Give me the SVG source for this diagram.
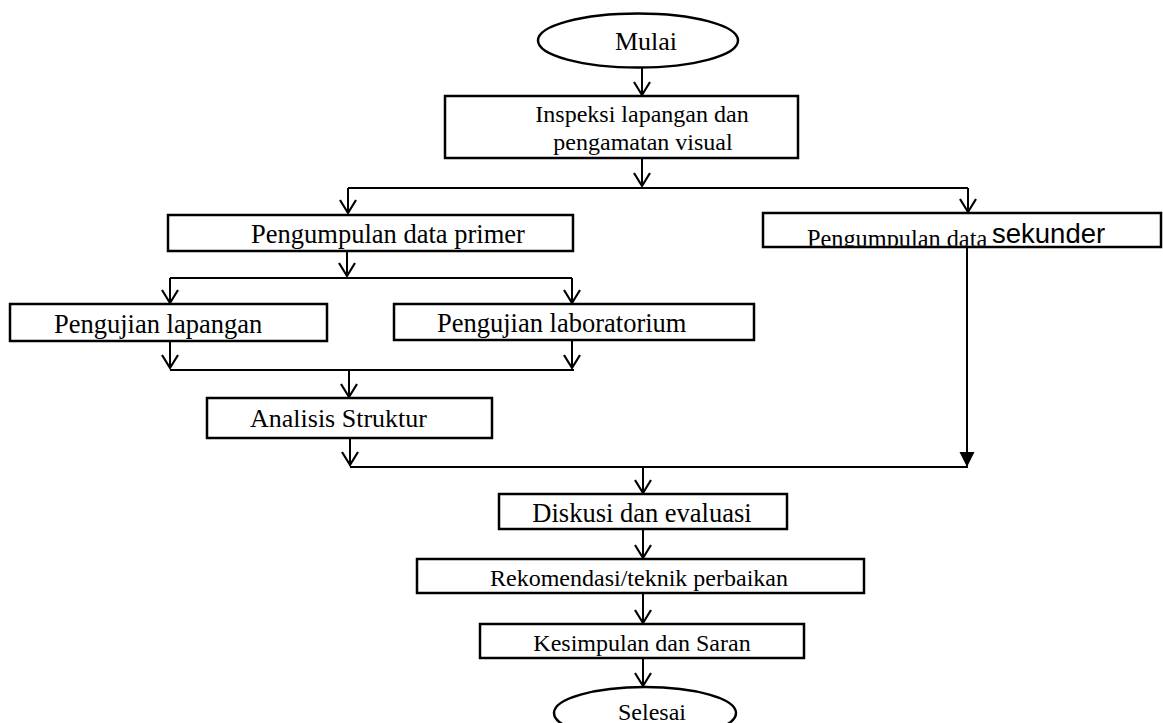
<svg xmlns="http://www.w3.org/2000/svg" width="1163" height="723" viewBox="0 0 1163 723">
<style>
.box{fill:#fff;stroke:#000;stroke-width:2.5}
.t{font-family:"Liberation Serif","Times New Roman",serif;fill:#000}
.s{font-family:"Liberation Sans",Arial,sans-serif;fill:#000}
.c{fill:none;stroke:#000;stroke-width:2}
</style>
<defs>
<marker id="ah" markerUnits="userSpaceOnUse" viewBox="-16 -10 20 20" markerWidth="20" markerHeight="20" refX="0" refY="0" orient="auto">
<path d="M-13,-8 L0,0 L-13,8" fill="none" stroke="#000" stroke-width="2.2"/>
</marker>
<marker id="fh" markerUnits="userSpaceOnUse" viewBox="-16 -10 20 20" markerWidth="20" markerHeight="20" refX="0" refY="0" orient="auto">
<path d="M-15,-7.5 L0,0 L-15,7.5 Z" fill="#000"/>
</marker>
<clipPath id="cs"><rect x="763" y="200" width="400" height="45.8"/></clipPath>
</defs>
<g id="connectors">
<path class="c" d="M642,67 V95" marker-end="url(#ah)"/>
<path class="c" d="M642,158 V186" marker-end="url(#ah)"/>
<path class="c" d="M348,188 H968"/>
<path class="c" d="M348,188 V213" marker-end="url(#ah)"/>
<path class="c" d="M968,188 V212" marker-end="url(#ah)"/>
<path class="c" d="M347,251 V276" marker-end="url(#ah)"/>
<path class="c" d="M170,278 H572"/>
<path class="c" d="M170,278 V303" marker-end="url(#ah)"/>
<path class="c" d="M572,278 V303" marker-end="url(#ah)"/>
<path class="c" d="M170,341 V368" marker-end="url(#ah)"/>
<path class="c" d="M572,340 V368" marker-end="url(#ah)"/>
<path class="c" d="M170,370 H574"/>
<path class="c" d="M349,370 V397" marker-end="url(#ah)"/>
<path class="c" d="M350,438 V465" marker-end="url(#ah)"/>
<path class="c" d="M350,467 H968"/>
<path class="c" d="M967,247 V467" marker-end="url(#fh)"/>
<path class="c" d="M643,467 V493" marker-end="url(#ah)"/>
<path class="c" d="M643,529 V558" marker-end="url(#ah)"/>
<path class="c" d="M643,593 V623" marker-end="url(#ah)"/>
<path class="c" d="M643,658 V686" marker-end="url(#ah)"/>
</g>
<g id="mulai">
<ellipse class="box" cx="638" cy="40.5" rx="100" ry="27"/>
<text class="t" x="646" y="50" font-size="26" text-anchor="middle">Mulai</text>
</g>
<g id="inspeksi">
<rect class="box" x="445" y="96" width="353" height="62"/>
<text class="t" x="642" y="122" font-size="24" text-anchor="middle">Inspeksi lapangan dan</text>
<text class="t" x="643" y="150" font-size="24" text-anchor="middle">pengamatan visual</text>
</g>
<g id="primer">
<rect class="box" x="168" y="215" width="405" height="36"/>
<text class="t" x="388" y="243" font-size="26.5" text-anchor="middle">Pengumpulan data primer</text>
</g>
<g id="sekunder">
<rect class="box" x="763" y="213" width="398" height="34"/>
<g clip-path="url(#cs)">
<text class="t" x="807" y="247" font-size="24.3">Pengumpulan data</text>
<text class="s" x="992" y="243" font-size="27.5">sekunder</text>
</g>
</g>
<g id="lapangan">
<rect class="box" x="10" y="304" width="317" height="37"/>
<text class="t" x="54" y="333" font-size="26.5">Pengujian lapangan</text>
</g>
<g id="laboratorium">
<rect class="box" x="394" y="304" width="360" height="36"/>
<text class="t" x="437" y="332" font-size="26.5">Pengujian laboratorium</text>
</g>
<g id="analisis">
<rect class="box" x="207" y="398" width="285" height="40"/>
<text class="t" x="250" y="427" font-size="26">Analisis Struktur</text>
</g>
<g id="diskusi">
<rect class="box" x="499" y="494" width="288" height="35"/>
<text class="t" x="642" y="522" font-size="26.5" text-anchor="middle">Diskusi dan evaluasi</text>
</g>
<g id="rekomendasi">
<rect class="box" x="417" y="559" width="447" height="34"/>
<text class="t" x="639" y="586" font-size="24" text-anchor="middle">Rekomendasi/teknik perbaikan</text>
</g>
<g id="kesimpulan">
<rect class="box" x="480" y="624" width="324" height="34"/>
<text class="t" x="642" y="651" font-size="24" text-anchor="middle">Kesimpulan dan Saran</text>
</g>
<g id="selesai">
<ellipse class="box" cx="645" cy="713" rx="91" ry="26"/>
<text class="t" x="652" y="720" font-size="24" text-anchor="middle">Selesai</text>
</g>
</svg>
